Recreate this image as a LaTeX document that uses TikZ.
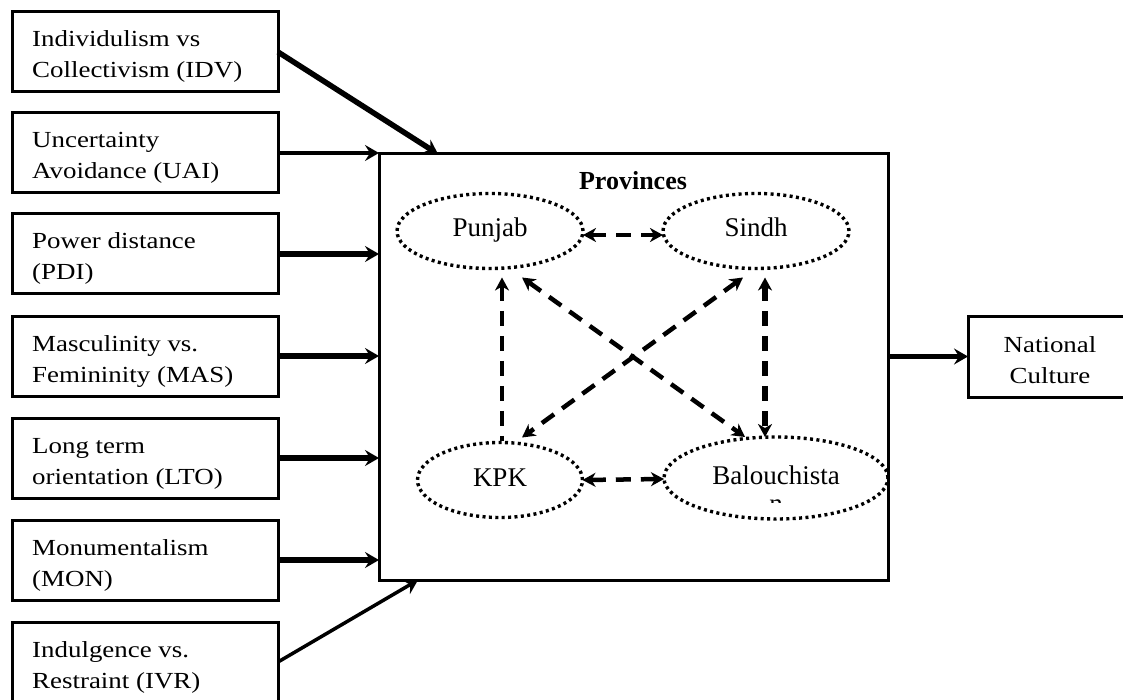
\documentclass[tikz,border=0pt]{standalone}
\usepackage{fontspec}
\setmainfont{Liberation Serif}
\newfontfamily\boxfont[FakeStretch=1.17]{Liberation Serif}
\usetikzlibrary{arrows.meta,shapes.geometric,calc}

% two lines whose first baseline is the node's base
\newcommand\twolines[2]{\begin{tabular}[t]{@{}l@{}}#1\\#2\end{tabular}}
\newcommand\twocentred[2]{\begin{tabular}[t]{@{}c@{}}#1\\#2\end{tabular}}

\begin{document}
\begin{tikzpicture}[x=1pt,y=-1pt,
  factor/.style={draw, line width=3pt, rectangle, anchor=north west,
    minimum width=266pt, minimum height=80pt, inner sep=0pt, outer sep=0pt},
  boxtext/.style={anchor=base west, inner sep=0pt,
    font=\boxfont\fontsize{23}{31}\selectfont},
  province/.style={ellipse, draw, line width=3.4pt, dash pattern=on 3pt off 3.4pt,
    inner sep=0pt, outer sep=0pt, text height=18pt, text depth=6pt,
    font=\fontsize{27}{31}\selectfont},
  feed/.style={line width=3.5pt, -{Stealth[length=14pt,width=16pt,inset=5pt]}},
  feedthick/.style={feed, line width=5.5pt},
  link/.style={line width=4.5pt, dash pattern=on 15pt off 10pt,
    {Stealth[length=13pt,width=14pt,inset=4pt]}-{Stealth[length=13pt,width=14pt,inset=4pt]}},
  linkone/.style={line width=4.5pt, dash pattern=on 15pt off 10pt,
    {Stealth[length=13pt,width=14pt,inset=4pt]}-},
]
\clip (0,0) rectangle (1123,700);

% Hofstede dimensions
\node[factor] (b1) at (12,12)  {};
\node[boxtext] (t1) at (32,47)  {\twolines{Individulism vs}{Collectivism (IDV)}};
\node[factor] (b2) at (12,113) {};
\node[boxtext] (t2) at (32,148) {\twolines{Uncertainty}{Avoidance (UAI)}};
\node[factor] (b3) at (12,214) {};
\node[boxtext] (t3) at (32,249) {\twolines{Power distance}{(PDI)}};
\node[factor] (b4) at (12,316) {};
\node[boxtext] (t4) at (32,351) {\twolines{Masculinity vs.}{Femininity (MAS)}};
\node[factor] (b5) at (12,418) {};
\node[boxtext] (t5) at (32,453) {\twolines{Long term}{orientation (LTO)}};
\node[factor] (b6) at (12,520) {};
\node[boxtext] (t6) at (32,555) {\twolines{Monumentalism}{(MON)}};
\node[factor] (b7) at (12,622) {};
\node[boxtext] (t7) at (32,657) {\twolines{Indulgence vs.}{Restraint (IVR)}};

% provinces frame
\node[draw, line width=3pt, rectangle, anchor=north west, minimum width=509pt,
  minimum height=426pt, inner sep=0pt, outer sep=0pt] (frame) at (379,154) {};
\node[anchor=base, inner sep=0pt, font=\bfseries\fontsize{26}{31}\selectfont]
  (title) at (633,190) {Provinces};

% national culture
\node[factor, minimum width=180pt, minimum height=81pt] (nat) at (968,316) {};
\node[anchor=base, inner sep=0pt, font=\boxfont\fontsize{23}{31}\selectfont]
  (natt) at (1050,352) {\twocentred{National}{Culture}};

% provinces
\node[province, minimum width=186pt, minimum height=75pt] (pun) at (490,231) {Punjab};
\node[province, minimum width=186pt, minimum height=75pt] (sin) at (756,231) {Sindh};
\node[province, minimum width=165pt, minimum height=75pt] (kpk) at (500,480) {KPK};
\node[province, minimum width=224pt, minimum height=82pt] (bal) at (776,478) {Balouchista};
\begin{scope}
  \clip (740,499) rectangle (810,502);
  \node[anchor=base, inner sep=0pt, font=\fontsize{27}{31}\selectfont] (baln) at (776,512) {n};
\end{scope}

% dimensions into the frame
\draw[feedthick] (b1.east) -- ($(frame.north west)+(59,0)$);
\draw[feed] (b2.east) -- (b2.east -| frame.west);
\draw[feedthick] (b3.east) -- (b3.east -| frame.west);
\draw[feedthick] (b4.east) -- (b4.east -| frame.west);
\draw[feedthick] (b5.east) -- (b5.east -| frame.west);
\draw[feedthick] (b6.east) -- (b6.east -| frame.west);
\draw[feed] (b7.east) -- ($(frame.south west)+(39,0)$);

% frame to national culture
\draw[feedthick] (frame.east |- nat.west) -- (nat.west);

% links between provinces
\draw[link] ($(pun.east)+(0,4)$) -- ($(sin.west)+(0,4)$);
\draw[link] (kpk.east) -- ($(bal.west)+(0,1)$);
\draw[linkone] ($(pun.south)+(12,9)$) -- ($(kpk.north)+(2,-2)$);
\draw[link, line width=5.5pt] ($(sin.south)+(9,9)$) -- ($(bal.north)+(-11,0)$);
\draw[link] ($(pun.south)+(32,9)$) -- ($(bal.north)+(-31,0)$);
\draw[link] ($(sin.south)+(-13,9)$) -- ($(kpk.north)+(22,-5)$);
\end{tikzpicture}
\end{document}
